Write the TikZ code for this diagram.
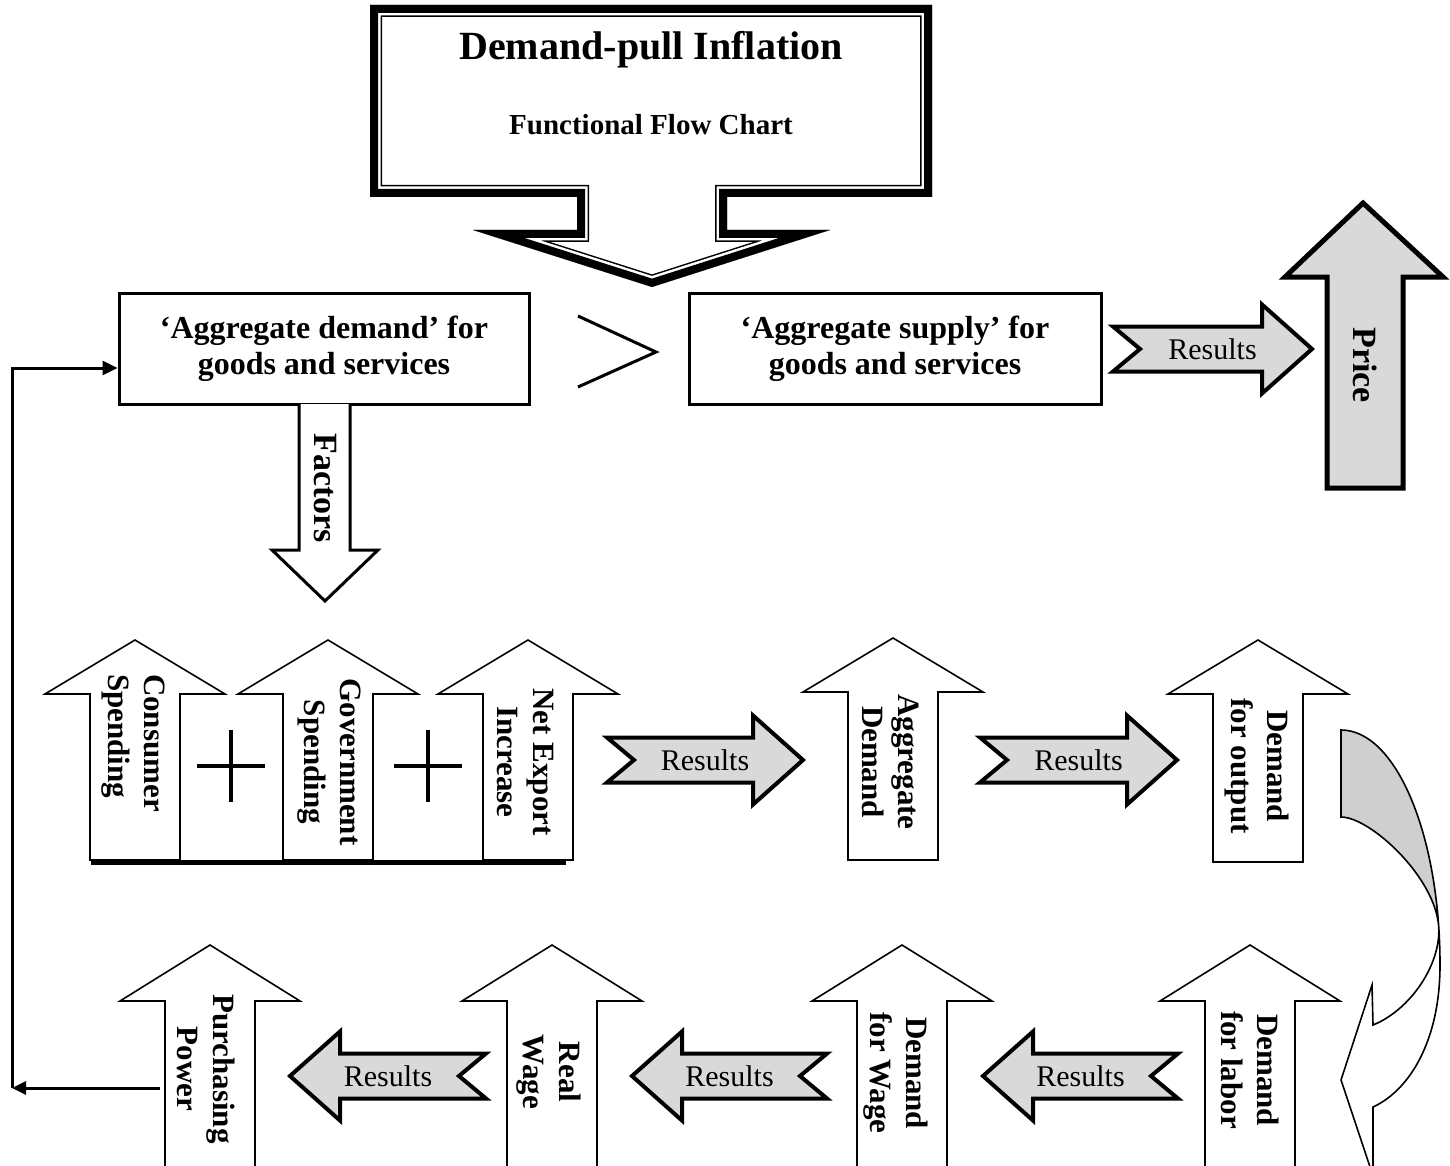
\documentclass[tikz,border=0pt]{standalone}
\usepackage{fontspec}
\setmainfont{Liberation Serif}
\usetikzlibrary{arrows.meta}
\definecolor{resgray}{HTML}{D9D9D9}
\definecolor{curvgray}{HTML}{CFCFCF}
\newcommand{\UpArr}[4]{% cx, tip y, head base y, bottom y
  \draw[upar] (#1,#2) -- ({#1+90},#3) -- ({#1+45},#3) -- ({#1+45},#4) -- ({#1-45},#4) -- ({#1-45},#3) -- ({#1-90},#3) -- cycle;}
\newcommand{\ResR}[4]{% name, tail x, tip x, y
  \draw[resar] (#2,{#4-22.5}) -- ({#3-50},{#4-22.5}) -- ({#3-50},{#4-44.5}) -- (#3,#4) -- ({#3-50},{#4+44.5}) -- ({#3-50},{#4+22.5}) -- (#2,{#4+22.5}) -- ({#2+27},#4) -- cycle;
  \node[restxt] (#1) at ({(#2+#3)/2},#4) {Results};}
\newcommand{\ResL}[4]{% name, tip x, tail x, y
  \draw[resar] (#3,{#4-22.5}) -- ({#2+50},{#4-22.5}) -- ({#2+50},{#4-44.5}) -- (#2,#4) -- ({#2+50},{#4+44.5}) -- ({#2+50},{#4+22.5}) -- (#3,{#4+22.5}) -- ({#3-27},#4) -- cycle;
  \node[restxt] (#1) at ({(#2+#3)/2},#4) {Results};}
\begin{document}
\begin{tikzpicture}[x=0.5pt,y=-0.5pt,line join=miter,
  upar/.style={draw=black,fill=white,line width=0.8pt},
  resar/.style={draw=black,fill=resgray,line width=2pt},
  lbl/.style={rotate=-90,align=center,font=\fontsize{15.5}{18}\selectfont\bfseries,inner sep=0pt},
  restxt/.style={font=\fontsize{15}{18}\selectfont,inner sep=0pt},
  bigbox/.style={draw,line width=1.5pt,fill=white,minimum width=205pt,minimum height=55.5pt,align=center,font=\fontsize{16}{18}\selectfont\bfseries,inner sep=0pt},
  fb/.style={line width=1.5pt}]
\useasboundingbox (0,0) rectangle (1450,1166);

% ---------- top double-bordered arrow box ----------
\fill[white] (370,5) -- (932,5) -- (932,197) -- (727,197) -- (727,230) -- (830,230) -- (652,287) -- (473,230) -- (577,230) -- (577,197) -- (370,197) -- cycle;
\begin{scope}
\clip (370,5) -- (932,5) -- (932,197) -- (727,197) -- (727,230) -- (830,230) -- (652,287) -- (473,230) -- (577,230) -- (577,197) -- (370,197) -- cycle;
\draw[line width=12pt] (370,5) -- (932,5) -- (932,197) -- (727,197) -- (727,230) -- (830,230) -- (652,287) -- (473,230) -- (577,230) -- (577,197) -- (370,197) -- cycle;
\draw[white,line width=10.5pt] (370,5) -- (932,5) -- (932,197) -- (727,197) -- (727,230) -- (830,230) -- (652,287) -- (473,230) -- (577,230) -- (577,197) -- (370,197) -- cycle;
\draw[line width=8pt] (370,5) -- (932,5) -- (932,197) -- (727,197) -- (727,230) -- (830,230) -- (652,287) -- (473,230) -- (577,230) -- (577,197) -- (370,197) -- cycle;
\end{scope}
\node[font=\fontsize{20}{24}\selectfont\bfseries,inner sep=0pt] (title) at (651,50) {Demand-pull Inflation};
\node[font=\fontsize{14.5}{17}\selectfont\bfseries,inner sep=0pt] (subtitle) at (651,125) {Functional Flow Chart};

% ---------- aggregate boxes ----------
\node[bigbox] (ad) at (324,348.5) {‘Aggregate demand’ for\\goods and services};
\node[bigbox,minimum width=206pt] (as) at (895,348.5) {‘Aggregate supply’ for\\goods and services};
\draw[line width=1.5pt] (578,316) -- (656,352) -- (578,387);

% results -> price
\ResR{r0}{1113}{1312}{349}
\draw[line width=2.5pt,fill=resgray] (1363,203) -- (1443,277) -- (1403,277) -- (1403,488) -- (1327,488) -- (1327,277) -- (1285,277) -- cycle;
\node[rotate=-90,font=\fontsize{17}{20}\selectfont\bfseries,inner sep=0pt] (price) at (1365,365) {Price};

% factors arrow
\draw[line width=1.5pt,fill=white] (299,404) -- (299,550) -- (272,550) -- (325,601) -- (378,550) -- (350,550) -- (350,404);
\node[rotate=-90,font=\fontsize{17}{20}\selectfont\bfseries,inner sep=0pt] (factors) at (325,488) {Factors};

% ---------- middle row ----------
\UpArr{135}{640}{694}{860}
\UpArr{328}{640}{694}{860}
\UpArr{528}{640}{694}{860}
\draw[line width=2.5pt] (91,862) -- (566,862);
\draw[line width=1.6pt] (197,766) -- (265,766) (231,730) -- (231,802);
\draw[line width=1.6pt] (394,766) -- (462,766) (428,730) -- (428,802);
\node[lbl,align=left] (cs) at (133,743) {Consumer\\Spending};
\node[lbl] (gs) at (329,762) {Government\\Spending};
\node[lbl] (ne) at (525,762) {Net Export\\Increase};

\ResR{r1}{607}{803}{760}
\UpArr{893}{638}{692}{860}
\node[lbl] (agd) at (891,762) {Aggregate\\Demand};
\ResR{r2}{980}{1177}{760}
\UpArr{1258}{640}{694}{862}
\node[lbl] (dout) at (1257,766) {Demand\\for output};

% ---------- curved arrow ----------
\fill[curvgray] (1341,730) .. controls (1390.5,730) and (1431.1,815) .. (1438.7,926.8) .. controls (1435.3,876.8) and (1370,817) .. (1341,817) -- cycle;
\draw[line width=0.8pt] (1341,817) -- (1341,730) .. controls (1396,730) and (1440,835) .. (1440,965) .. controls (1440,1040) and (1410,1090) .. (1373,1107) -- (1373,1176) -- (1341,1080) -- (1372,985) -- (1373,1025) .. controls (1410,1010) and (1441,965) .. (1438.7,926.8) .. controls (1435.3,876.8) and (1370,817) .. (1341,817) -- cycle;

% ---------- bottom row ----------
\UpArr{210}{945}{1001}{1180}
\UpArr{552}{945}{1001}{1180}
\UpArr{902}{945}{1001}{1180}
\UpArr{1250}{945}{1001}{1180}
\node[lbl] (pp) at (206,1069) {Purchasing\\Power};
\node[lbl] (rw) at (549,1072) {Real\\Wage};
\node[lbl] (dw) at (896,1073) {Demand\\for Wage};
\node[lbl] (dl) at (1250,1070) {Demand\\for labor};
\ResL{r3}{290}{486}{1076}
\ResL{r4}{632}{827}{1076}
\ResL{r5}{983}{1178}{1076}

% ---------- feedback connector ----------
\coordinate (fbStart) at (160,1088);
\coordinate (fbCorner) at (12,1088);
\coordinate (fbEnd) at (ad.west |- 0,368);
\draw[fb,-{Triangle[length=7pt,width=6.5pt]}] (fbStart) -- (fbCorner);
\draw[fb,-{Triangle[length=7.5pt,width=7pt]}] (fbCorner) |- (fbEnd);
\end{tikzpicture}
\end{document}
